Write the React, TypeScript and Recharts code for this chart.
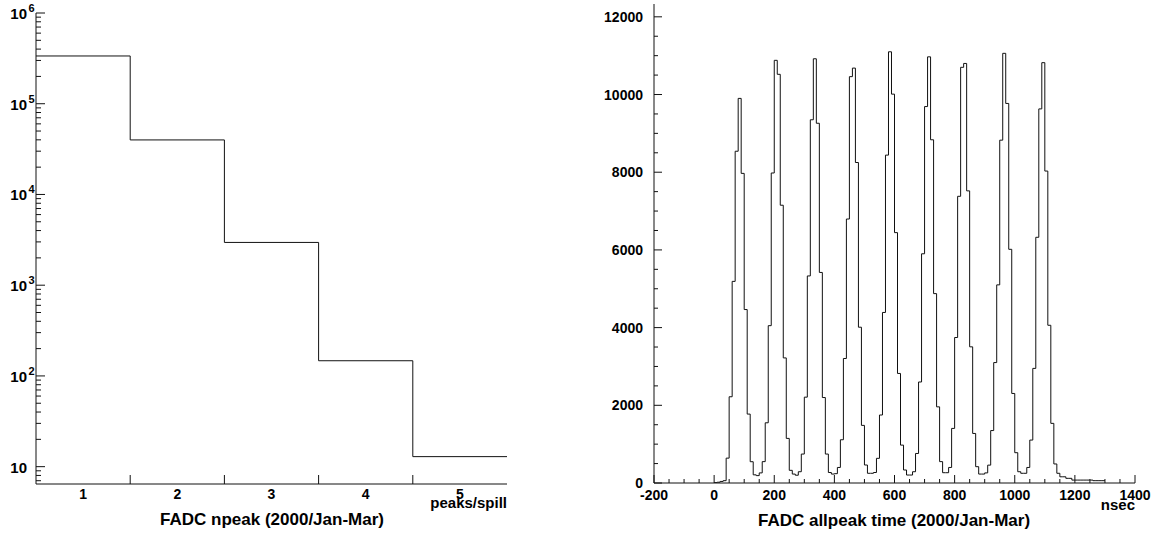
import { ComposedChart, Line, XAxis, YAxis } from "recharts";

// left panel: number of FADC peaks per spill
const NPEAK_BINS = [1, 2, 3, 4, 5];
const NPEAK_COUNTS = [336000, 39900, 2960, 147, 12.9];

// right panel: all peak times, 10 ns bins starting at 0 ns
const TIME_BIN_WIDTH = 10;
const ALLPEAK_COUNTS = [
  10, 20, 40, 60, 640, 2220, 5190, 8540, 9900, 7970,
  4465, 1774, 548, 210, 190, 260, 550, 1550, 4050, 7980,
  10880, 10520, 7150, 3220, 1148, 326, 230, 200, 290, 745,
  2210, 5330, 9350, 10920, 9260, 5420, 2200, 745, 270, 230,
  240, 400, 1113, 3205, 6795, 10460, 10680, 8250, 4010, 1483,
  463, 250, 250, 270, 635, 1750, 4390, 8440, 11100, 10010,
  6445, 2820, 975, 335, 205, 205, 290, 760, 2600, 5900,
  9690, 10970, 8835, 4875, 1960, 550, 265, 265, 400, 1405,
  3745, 7380, 10700, 10800, 7520, 3505, 1275, 420, 230, 230,
  260, 460, 1350, 3100, 5100, 8825, 11060, 9770, 6015, 2305,
  780, 290, 250, 250, 400, 1105, 2950, 6325, 9630, 10820,
  8030, 4060, 1535, 490, 250, 160, 160, 120, 120, 75,
  75, 75, 75, 75, 75, 75, 60, 60, 60, 60,
];

const LOG_TICKS = [7, 8, 9, 10, 20, 30, 40, 50, 60, 70, 80, 90,
  100, 200, 300, 400, 500, 600, 700, 800, 900,
  1e3, 2e3, 3e3, 4e3, 5e3, 6e3, 7e3, 8e3, 9e3,
  1e4, 2e4, 3e4, 4e4, 5e4, 6e4, 7e4, 8e4, 9e4,
  1e5, 2e5, 3e5, 4e5, 5e5, 6e5, 7e5, 8e5, 9e5, 1e6];
const NPEAK_X_TICKS = [1, 1.5, 2, 2.5, 3, 3.5, 4, 4.5, 5];
const TIME_Y_TICKS = [0, 500, 1000, 1500, 2000, 2500, 3000, 3500, 4000, 4500, 5000, 5500,
  6000, 6500, 7000, 7500, 8000, 8500, 9000, 9500, 10000, 10500, 11000, 11500, 12000];
const TIME_X_TICKS = [-200, -150, -100, -50, 0, 50, 100, 150, 200, 250, 300, 350, 400,
  450, 500, 550, 600, 650, 700, 750, 800, 850, 900, 950, 1000, 1050, 1100, 1150,
  1200, 1250, 1300, 1350, 1400];

const FONT = "'Liberation Sans', Arial, Helvetica, sans-serif";
const INK = "#111";

const npeakData = [
  ...NPEAK_BINS.map((b, i) => ({ x: b - 0.5, y: NPEAK_COUNTS[i] })),
  { x: NPEAK_BINS[NPEAK_BINS.length - 1] + 0.5, y: NPEAK_COUNTS[NPEAK_COUNTS.length - 1] },
];

const timeData = [
  ...ALLPEAK_COUNTS.map((v, i) => ({ t: i * TIME_BIN_WIDTH, v })),
  { t: ALLPEAK_COUNTS.length * TIME_BIN_WIDTH, v: ALLPEAK_COUNTS[ALLPEAK_COUNTS.length - 1] },
];

function LogYTick(props: any) {
  const { x, y, payload } = props;
  const lg = Math.log10(payload.value);
  const exp = Math.round(lg);
  const major = Math.abs(lg - exp) < 1e-6;
  return (
    <g>
      <line x1={x} y1={y} x2={x + (major ? 9 : 5)} y2={y} stroke={INK} />
      {major && (
        <text x={x - 9} y={y + 6} textAnchor="end" fontFamily={FONT} fontWeight="bold" fontSize={15} fill="#000">
          10
        </text>
      )}
      {major && exp !== 1 && (
        <text x={x - 7.5} y={y - 1} fontFamily={FONT} fontWeight="bold" fontSize={11} fill="#000">
          {exp}
        </text>
      )}
    </g>
  );
}

function NpeakXTick(props: any) {
  const { x, y, payload } = props;
  const v = payload.value;
  if (!Number.isInteger(v)) {
    return <line x1={x} y1={y} x2={x} y2={y - 9} stroke={INK} />;
  }
  return (
    <text x={x} y={y + 15} textAnchor="middle" fontFamily={FONT} fontWeight="bold" fontSize={14} fill="#000">
      {v}
    </text>
  );
}

function TimeYTick(props: any) {
  const { x, y, payload } = props;
  const major = payload.value % 2000 === 0;
  return (
    <g>
      <line x1={x} y1={y} x2={x + (major ? 8 : 4)} y2={y} stroke={INK} />
      {major && (
        <text x={x - 11} y={y + 5} textAnchor="end" fontFamily={FONT} fontWeight="bold" fontSize={14} fill="#000">
          {payload.value}
        </text>
      )}
    </g>
  );
}

function TimeXTick(props: any) {
  const { x, y, payload } = props;
  const major = payload.value % 200 === 0;
  return (
    <g>
      <line x1={x} y1={y} x2={x} y2={y - (major ? 8 : 4)} stroke={INK} />
      {major && (
        <text x={x} y={y + 17} textAnchor="middle" fontFamily={FONT} fontWeight="bold" fontSize={14} fill="#000">
          {payload.value}
        </text>
      )}
    </g>
  );
}

export default function App() {
  return (
    <div style={{ position: "absolute", left: 0, top: 0, width: 1157, height: 536, background: "#fff" }}>
      <div style={{ position: "absolute", left: 0, top: 0 }}>
        <ComposedChart width={560} height={536} data={npeakData} margin={{ top: 13, right: 53, bottom: 0, left: 0 }}>
          <XAxis
            dataKey="x"
            type="number"
            domain={[0.5, 5.5]}
            ticks={NPEAK_X_TICKS}
            interval={0}
            tick={<NpeakXTick />}
            tickSize={0}
            tickMargin={0}
            tickLine={false}
            axisLine={{ stroke: INK }}
            height={52}
          />
          <XAxis xAxisId="top" orientation="top" type="number" domain={[0, 1]} height={0} tick={false} tickLine={false} axisLine={{ stroke: INK }} />
          <YAxis
            dataKey="y"
            type="number"
            scale="log"
            domain={[6.44, 1e6]}
            allowDataOverflow
            ticks={LOG_TICKS}
            interval={0}
            tick={<LogYTick />}
            tickSize={0}
            tickMargin={0}
            tickLine={false}
            axisLine={{ stroke: INK }}
            width={36}
          />
          <YAxis yAxisId="right" orientation="right" type="number" domain={[0, 1]} width={0} tick={false} tickLine={false} axisLine={{ stroke: INK }} />
          <Line
            type="stepAfter"
            dataKey="y"
            stroke={INK}
            strokeWidth={1}
            dot={false}
            activeDot={false}
            isAnimationActive={false}
          />
        </ComposedChart>
      </div>
      <div style={{ position: "absolute", left: 580, top: 0 }}>
        <ComposedChart width={577} height={536} data={timeData} margin={{ top: 4, right: 22, bottom: 0, left: 0 }}>
          <XAxis
            dataKey="t"
            type="number"
            domain={[-200, 1400]}
            ticks={TIME_X_TICKS}
            interval={0}
            tick={<TimeXTick />}
            tickSize={0}
            tickMargin={0}
            tickLine={false}
            axisLine={{ stroke: INK }}
            height={53}
          />
          <XAxis xAxisId="top" orientation="top" type="number" domain={[0, 1]} height={0} tick={false} tickLine={false} axisLine={{ stroke: INK }} />
          <YAxis
            dataKey="v"
            type="number"
            domain={[0, 12330]}
            allowDataOverflow
            ticks={TIME_Y_TICKS}
            interval={0}
            tick={<TimeYTick />}
            tickSize={0}
            tickMargin={0}
            tickLine={false}
            axisLine={{ stroke: INK }}
            width={74}
          />
          <YAxis yAxisId="right" orientation="right" type="number" domain={[0, 1]} width={0} tick={false} tickLine={false} axisLine={{ stroke: INK }} />
          <Line
            type="stepAfter"
            dataKey="v"
            stroke={INK}
            strokeWidth={1}
            dot={false}
            activeDot={false}
            isAnimationActive={false}
          />
        </ComposedChart>
      </div>
      <div style={{ position: "absolute", left: 0, top: 0, width: 1157, height: 536, pointerEvents: "none" }}>
        <svg width={1157} height={536}>
          <text x={507} y={508} textAnchor="end" fontFamily={FONT} fontWeight="bold" fontSize={15} fill="#000">
            peaks/spill
          </text>
          <text x={272} y={525} textAnchor="middle" fontFamily={FONT} fontWeight="bold" fontSize={17} fill="#000">
            FADC npeak (2000/Jan-Mar)
          </text>
          <text x={1135} y={510} textAnchor="end" fontFamily={FONT} fontWeight="bold" fontSize={15} fill="#000">
            nsec
          </text>
          <text x={894} y={526} textAnchor="middle" fontFamily={FONT} fontWeight="bold" fontSize={17} fill="#000">
            FADC allpeak time (2000/Jan-Mar)
          </text>
        </svg>
      </div>
    </div>
  );
}
